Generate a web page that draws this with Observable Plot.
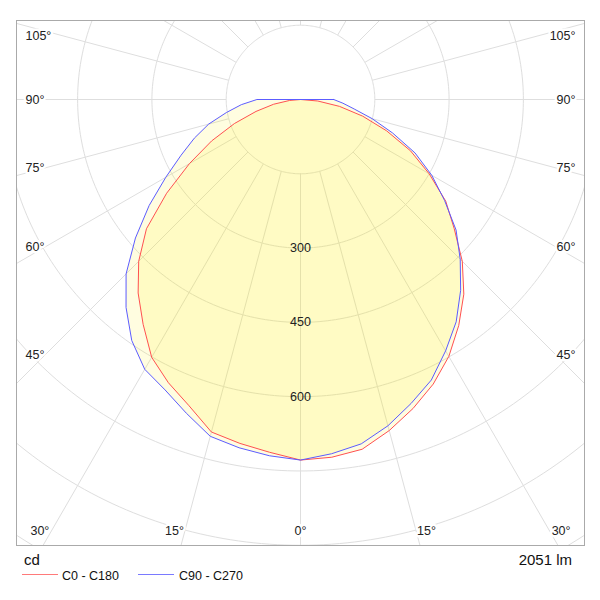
<!DOCTYPE html>
<html><head><meta charset="utf-8">
<script src="https://cdn.jsdelivr.net/npm/d3@7"></script>
<script src="https://cdn.jsdelivr.net/npm/@observablehq/plot@0.6"></script>
<style>
body{margin:0;background:#fff;font-family:Arial,"Liberation Sans",sans-serif;}
#wrap{position:relative;width:600px;height:600px;}
.foot{position:absolute;color:#111;white-space:nowrap;}
.leg{position:absolute;height:1px;}
</style></head><body><div id="wrap"><div id="chart"></div></div>
<script>
// gamma angles (degrees from nadir)
const angles = [0,5,10,15,20,25,30,35,40,45,50,55,60,65,70,75,80,85,90];
// luminous intensity, cd
const c0   = [728,725,717,692,664,634,599,557,513,462,405,358,300,245,185,130,80,35,0];
const c180 = [728,715,705,695,658,631,601,554,510,462,406,330,259,198,142,93,55,22,0];
const c90  = [728,718,706,682,653,625,586,548,503,456,410,355,306,255,198,150,110,86,67];
const c270 = [728,722,714,704,674,647,629,594,548,498,435,373,314,266,228,192,152,120,88];
const ringValues = [150,300,450,600,750,900,1050,1200];
const ringLabels = [300,450,600];
const spokeAngles = d3.range(0,360,15);
const bottomAngleLabels = [0,15,30];
const sideAngleLabels = [45,60,75,90,105];
const seriesNames = ["C0 - C180","C90 - C270"];
const seriesColors = ["#ff5050","#5c5cff"];
const legendColors = ["#ff7a7a","#7a7aff"];
const unitLabel = "cd";
const fluxLabel = "2051 lm";

const k = 0.4953; // px per cd
const rad = d => d*Math.PI/180;

function polygon(right, left) {
  const pts = [];
  for (let i = angles.length-1; i >= 0; i--) pts.push({x: right[i]*Math.sin(rad(angles[i])), y: right[i]*Math.cos(rad(angles[i]))});
  for (let i = 0; i < angles.length; i++) pts.push({x: -left[i]*Math.sin(rad(angles[i])), y: left[i]*Math.cos(rad(angles[i]))});
  pts.push(pts[0]);
  return pts;
}
const redPoly = polygon(c0, c180);
const bluePoly = polygon(c90, c270);

const ringPts = ringValues.flatMap(r => d3.range(0,361,1).map(a => ({r, x: r*Math.sin(rad(a)), y: r*Math.cos(rad(a))})));
const spokes = spokeAngles.map(a => ({x1: 150*Math.sin(rad(a)), y1: 150*Math.cos(rad(a)), x2: 1500*Math.sin(rad(a)), y2: 1500*Math.cos(rad(a))}));

const Yb = 435/k; // bottom label baseline
const Xs = 255/k; // side label spoke intersection
const Xt = 275/k; // side label text edge
const bottomLab = bottomAngleLabels.flatMap(a => a === 0 ? [{side:0,a}] : [{side:-1,a},{side:1,a}])
  .map(d => ({...d, x: d.side*Yb*Math.tan(rad(d.a)), y: Yb, t: d.a+"°"}));
const sideLab = sideAngleLabels.flatMap(a => [-1,1].map(side => ({side, a, x: side*Xt, y: Xs/Math.tan(rad(a)), t: a+"°"})));

const txt = {fontSize: 12.5, fill: "#222", stroke: "white", strokeWidth: 5, paintOrder: "stroke", text: "t", x: "x", y: "y"};

const chart = Plot.plot({
  width: 600, height: 548,
  marginLeft: 16, marginRight: 16, marginTop: 20, marginBottom: 3,
  x: {domain: [-284/k, 284/k], axis: null},
  y: {domain: [446/k, -79/k], axis: null},
  style: {fontFamily: "Arial, 'Liberation Sans', sans-serif", background: "white"},
  marks: [
    Plot.line(ringPts, {x: "x", y: "y", z: "r", stroke: "#dedede", strokeWidth: 1, clip: true}),
    Plot.link(spokes, {x1: "x1", y1: "y1", x2: "x2", y2: "y2", stroke: "#dedede", strokeWidth: 1, clip: true}),
    Plot.line(redPoly, {x: "x", y: "y", fill: "#ffee00", fillOpacity: 0.12, stroke: "none", curve: "linear"}),
    Plot.line(bluePoly, {x: "x", y: "y", fill: "#ffee00", fillOpacity: 0.12, stroke: "none", curve: "linear"}),
    Plot.text(ringLabels, {x: 0, y: d => d, text: d => String(d), fontSize: 12.5, fill: "#222"}),
    Plot.line(redPoly, {x: "x", y: "y", stroke: seriesColors[0], strokeWidth: 1, curve: "linear"}),
    Plot.line(bluePoly, {x: "x", y: "y", stroke: seriesColors[1], strokeWidth: 1, curve: "linear"}),
    Plot.text(bottomLab.filter(d => d.side < 0), {...txt, textAnchor: "end", lineAnchor: "bottom"}),
    Plot.text(bottomLab.filter(d => d.side > 0), {...txt, textAnchor: "start", lineAnchor: "bottom"}),
    Plot.text(bottomLab.filter(d => d.side === 0), {...txt, textAnchor: "middle", lineAnchor: "bottom"}),
    Plot.text(sideLab.filter(d => d.side < 0 && d.a <= 90), {...txt, textAnchor: "start", lineAnchor: "middle"}),
    Plot.text(sideLab.filter(d => d.side > 0 && d.a <= 90), {...txt, textAnchor: "end", lineAnchor: "middle"}),
    Plot.text(sideLab.filter(d => d.side < 0 && d.a > 90), {...txt, textAnchor: "start", lineAnchor: "top"}),
    Plot.text(sideLab.filter(d => d.side > 0 && d.a > 90), {...txt, textAnchor: "end", lineAnchor: "top"}),
    Plot.frame({stroke: "#aaaaaa", strokeWidth: 1})
  ]
});
const wrap = document.getElementById("wrap");
document.getElementById("chart").appendChild(chart);

function addDiv(cls, style, text) {
  const d = document.createElement("div");
  d.className = cls; d.setAttribute("style", style);
  if (text != null) d.textContent = text;
  wrap.appendChild(d);
}
addDiv("foot", "left:24px;top:552px;font-size:15px;line-height:15px;", unitLabel);
addDiv("foot", "right:28px;top:552px;font-size:15px;line-height:15px;", fluxLabel);
const legX = [[22,62],[138,179]];
seriesNames.forEach((n, i) => {
  addDiv("leg", `left:${legX[i][0]}px;top:574px;width:36px;background:${legendColors[i]};`);
  addDiv("foot", `left:${legX[i][1]}px;top:570px;font-size:12.5px;line-height:13px;`, n);
});
</script></body></html>
